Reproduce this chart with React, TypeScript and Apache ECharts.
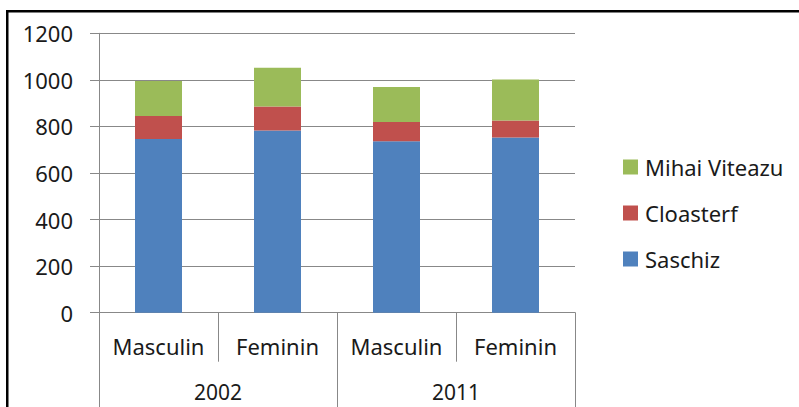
import React, { useEffect, useRef } from "react";
import * as echarts from "echarts";

const subCategories = ["Masculin", "Feminin", "Masculin", "Feminin"];
const years = ["2002", "2011"];
const saschiz = [746, 783, 736, 752];
const cloasterf = [99, 103, 83, 73];
const mihaiViteazu = [150, 166, 150, 177];
const legendOrder = ["Mihai Viteazu", "Cloasterf", "Saschiz"];

const FONT = "Noto Sans";
const GRAY = "#888888";

export default function App() {
  const ref = useRef<HTMLDivElement>(null);
  useEffect(() => {
    if (!ref.current) return;
    const chart = echarts.init(ref.current, null, { renderer: "svg" });
    const textStyle = { fontFamily: FONT, fontSize: 22, color: "#1a1a1a" };
    chart.setOption({
      animation: false,
      backgroundColor: "#ffffff",
      textStyle: { fontFamily: FONT },
      grid: { left: 99, top: 33.3, width: 476, height: 279.4, containLabel: false },
      legend: {
        orient: "vertical",
        left: 618,
        top: 151,
        itemWidth: 15,
        itemHeight: 15,
        itemGap: 24,
        icon: "rect",
        data: legendOrder,
        textStyle: { ...textStyle, fontSize: 22, padding: [0, 0, 0, 2] },
      },
      xAxis: [
        {
          type: "category",
          data: subCategories,
          position: "bottom",
          boundaryGap: true,
          axisLine: { show: true, lineStyle: { color: GRAY, width: 1 } },
          axisTick: { show: true, length: 49, alignWithLabel: false, lineStyle: { color: GRAY } },
          axisLabel: { ...textStyle, margin: 22, interval: 0 },
          splitLine: { show: false },
        },
        {
          type: "category",
          data: years,
          position: "bottom",
          gridIndex: 0,
          boundaryGap: true,
          axisLine: { show: false },
          axisTick: { show: true, length: 100, alignWithLabel: false, lineStyle: { color: GRAY } },
          axisLabel: { ...textStyle, fontSize: 21, margin: 70, lineHeight: 18, interval: 0 },
          splitLine: { show: false },
        },
      ],
      yAxis: {
        type: "value",
        min: 0,
        max: 1200,
        interval: 200,
        axisLine: { show: true, lineStyle: { color: GRAY } },
        axisTick: { show: true, length: 9, inside: false, lineStyle: { color: GRAY } },
        axisLabel: { ...textStyle, margin: 26, formatter: (v: number) => String(v) },
        splitLine: { show: true, lineStyle: { color: GRAY, width: 1 } },
      },
      series: [
        { name: "Saschiz", type: "bar", stack: "t", data: saschiz, barWidth: 47, itemStyle: { color: "#4F81BD" }, xAxisIndex: 0 },
        { name: "Cloasterf", type: "bar", stack: "t", data: cloasterf, barWidth: 47, itemStyle: { color: "#C0504D" }, xAxisIndex: 0 },
        { name: "Mihai Viteazu", type: "bar", stack: "t", data: mihaiViteazu, barWidth: 47, itemStyle: { color: "#9BBB59" }, xAxisIndex: 0 },
      ],
      graphic: [
        { type: "rect", shape: { x: 6, y: 10, width: 793, height: 2.5 }, style: { fill: "#000" }, silent: true },
        { type: "rect", shape: { x: 6, y: 10, width: 2.5, height: 397 }, style: { fill: "#000" }, silent: true },
      ],
    });
    return () => chart.dispose();
  }, []);
  return (
    <div
      ref={ref}
      style={{ position: "fixed", left: 0, top: 0, width: 799, height: 407 }}
    />
  );
}
